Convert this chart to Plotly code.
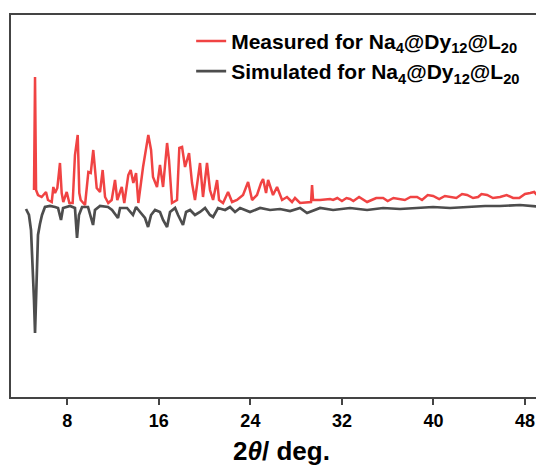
import plotly.graph_objects as go

# Measured PXRD pattern (2theta in degrees, intensity in arbitrary units)
measured_2theta = [5.09, 5.18, 5.27, 5.44, 5.76, 6.14, 6.31, 6.64, 6.78, 6.93, 7.13, 7.36, 7.51, 7.65, 7.95,
                   8.18, 8.47, 8.67, 8.91, 9.05, 9.17, 9.55, 9.84, 10.05, 10.27, 10.42, 10.57, 10.86, 11.09,
                   11.30, 11.58, 11.88, 12.17, 12.37, 12.76, 12.98, 13.33, 13.54, 13.77, 14.01, 14.21, 14.62,
                   14.97, 15.08, 15.32, 15.49, 15.84, 16.10, 16.37, 16.72, 16.89, 17.15, 17.59, 17.79, 18.03,
                   18.29, 18.64, 18.90, 19.16, 19.60, 19.86, 20.21, 20.47, 20.74, 21.09, 21.26, 21.61, 22.05,
                   22.40, 22.83, 23.36, 23.80, 24.15, 24.58, 24.93, 25.11, 25.37, 25.55, 25.98, 26.33, 26.77,
                   27.20, 27.64, 27.90, 28.34, 28.95, 29.30, 29.39, 29.48, 30.09, 30.96, 31.23, 31.60, 32.00,
                   32.40, 32.71, 33.00, 33.50, 34.20, 34.60, 35.00, 35.60, 36.00, 36.50, 37.08, 37.50, 38.00,
                   38.57, 39.00, 39.50, 39.97, 40.50, 41.00, 41.45, 42.00, 42.50, 42.94, 43.46, 43.90, 44.20,
                   44.69, 45.20, 45.82, 46.40, 46.96, 47.50, 48.00, 48.45, 48.80, 49.06, 49.30, 49.58, 50.00,
                   50.40]
measured_int = [207, 320, 207, 202, 200, 205, 197, 195, 210, 204, 209, 234, 204, 195, 205,
                194, 194, 242, 262, 204, 197, 192, 225, 224, 247, 227, 209, 205, 227,
                200, 194, 197, 217, 197, 210, 194, 222, 227, 214, 224, 194, 230,
                254, 262, 247, 220, 210, 232, 210, 254, 237, 194, 197, 249, 250,
                230, 244, 214, 197, 234, 200, 234, 207, 197, 217, 197, 194, 205,
                195, 197, 202, 215, 197, 202, 214, 218, 204, 217, 202, 210, 197,
                200, 195, 199, 194, 195, 195, 212, 197, 197, 198, 197, 199, 196,
                199, 198, 196, 200, 195, 197, 199, 199, 196, 199, 198, 197, 200,
                200, 197, 202, 201, 198, 201, 200, 199, 203, 202, 199, 200, 203,
                202, 199, 200, 202, 199, 199, 203, 204, 205, 202, 200, 198, 199,
                198]

# Simulated PXRD pattern (plotted inverted below the measured one)
simulated_2theta = [4.39, 4.65, 4.83, 5.00, 5.09, 5.18, 5.27, 5.35, 5.44, 5.61, 5.79, 6.05, 6.49, 6.93, 7.19,
                    7.45, 7.63, 8.24, 8.67, 8.85, 9.02, 9.29, 9.81, 10.25, 10.42, 10.86, 11.56, 11.91, 12.43,
                    12.61, 13.22, 13.74, 14.01, 14.36, 14.79, 15.06, 15.32, 15.67, 16.10, 16.37, 16.72, 16.98,
                    17.42, 17.68, 18.11, 18.38, 18.73, 19.16, 19.60, 20.04, 20.47, 20.74, 21.17, 21.79, 22.22,
                    22.66, 23.10, 23.97, 24.85, 25.72, 26.59, 27.47, 28.34, 28.95, 30.09, 31.23, 32.71, 34.20,
                    35.60, 37.08, 38.83, 39.97, 41.45, 42.94, 44.51, 45.82, 47.57, 49.58, 50.40]
simulated_int = [188, 182, 167, 127, 97, 64, 97, 137, 162, 173, 182, 190, 191, 190, 189,
                 177, 189, 191, 189, 159, 182, 190, 190, 172, 187, 191, 190, 187, 179,
                 189, 189, 182, 190, 185, 179, 170, 182, 187, 185, 177, 170, 185,
                 189, 182, 172, 185, 187, 182, 185, 189, 182, 180, 189, 187, 190,
                 185, 189, 185, 189, 187, 188, 186, 189, 184, 189, 187, 189, 187,
                 189, 188, 189, 190, 189, 190, 191, 191, 192, 190, 190]

x_ticks = [8, 16, 24, 32, 40, 48]

FONT = "Arial, 'Liberation Sans', sans-serif"

fig = go.Figure()
fig.add_trace(go.Scatter(
    x=measured_2theta, y=measured_int, mode="lines",
    line=dict(color="#F04343", width=2.5),
    name="<b>Measured for Na<sub>4</sub>@Dy<sub>12</sub>@L<sub>20</sub></b>"))
fig.add_trace(go.Scatter(
    x=simulated_2theta, y=simulated_int, mode="lines",
    line=dict(color="#4D4D4D", width=2.7),
    name="<b>Simulated for Na<sub>4</sub>@Dy<sub>12</sub>@L<sub>20</sub></b>"))

fig.update_layout(
    width=544, height=473,
    margin=dict(l=3, r=0, t=7, b=84),
    paper_bgcolor="white", plot_bgcolor="white",
    font=dict(family=FONT, color="black"),
    showlegend=True,
    legend=dict(x=0.333, y=0.985, xanchor="left", yanchor="top",
                bgcolor="rgba(0,0,0,0)", font=dict(size=21, family=FONT, color="black"),
                tracegroupgap=0, itemwidth=30),
    xaxis=dict(range=[3.08, 50.36], tickvals=x_ticks, ticktext=[f"<b>{v}</b>" for v in x_ticks],
               showline=True, linecolor="#444444", linewidth=2, mirror=True,
               ticks="outside", ticklen=6, tickwidth=1.5, tickcolor="#444444",
               tickfont=dict(size=18, family=FONT, color="black"),
               showgrid=False, zeroline=False,
               title=dict(text="<b>2<i>θ</i>/ deg.</b>", font=dict(size=26, family=FONT, color="black"),
                          standoff=12)),
    yaxis=dict(range=[0, 382], showline=True, linecolor="#444444", linewidth=2, mirror=False,
               showticklabels=False, ticks="", showgrid=False, zeroline=False),
)

fig.write_html("out.html")
